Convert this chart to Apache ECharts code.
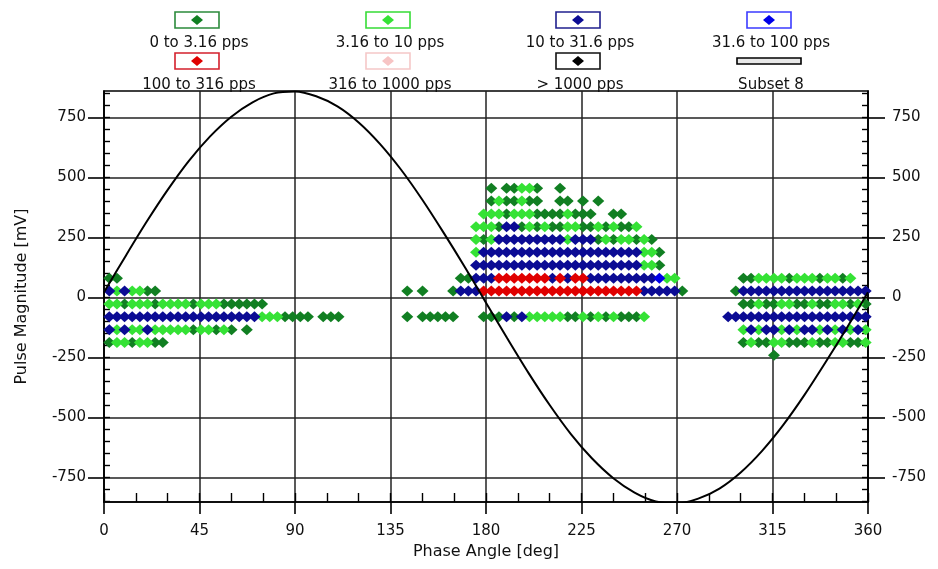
<!DOCTYPE html>
<html><head><meta charset="utf-8">
<script src="https://cdn.jsdelivr.net/npm/echarts@6/dist/echarts.min.js"></script>
<style>html,body{margin:0;padding:0;background:#fff}#c{width:938px;height:569px}</style>
</head><body><div id="c"></div>
<script>
// ---- data ----
const seriesNames = ['0 to 3.16 pps','3.16 to 10 pps','10 to 31.6 pps','31.6 to 100 pps','100 to 316 pps','316 to 1000 pps','> 1000 pps'];
const seriesCodes = ['a','b','c','d','e','f','g'];
const seriesColors = ['#117f22','#35e235','#0b0b94','#0000e8','#e00000','#f7c4c4','#000000'];
const refName = 'Subset 8';
// phase bins (deg): centre of bin n = binOffset + n * binWidth
const phaseBinWidth = 3.6;
const phaseBinOffset = 2.5;
// magnitude rows (mV)
const magnitudeRows = [455, 402, 348, 295, 241, 188, 134, 80, 27, -27, -80, -134, -188, -241];
// per row: [first bin, run-length string of series codes ('.' = empty)]
const rowSegments = [
  [[50,'1a1.2a2b1a2.1a']],
  [[50,'1a1b2a1b2a2.2a1.1a1.1a']],
  [[49,'3b1a3b4a1b3a2.2a']],
  [[48,'3b1a2c1a1b1a1b2a2b2a1b1a1b2a1b']],
  [[48,'1b1a1b9c1b3c1a1b1a2b1a1b1a']],
  [[48,'1b21c2b1a']],
  [[48,'22c2b1a']],
  [[0,'2a'],[46,'2a3c7e1c1e1c2e9c1d2b'],[83,'2a4b1a3b1a2b1a1b']],
  [[0,'1c1b1c2b2a'],[39,'1a1.1a3.1a3c21e5c1a'],[82,'1a17c']],
  [[0,'2b1a3b1a4b1a3b6a'],[83,'2a1b2a2b2a1b2a2b1a1b1a']],
  [[0,'20c3b4a1.3a'],[39,'1a1.5a'],[49,'3a1c1a1c5b2a1b1a1b1a1b3a1b'],[81,'19c']],
  [[0,'1c1b1c2b1c5b1a2b1a1b1a1.1a'],[83,'1b1c1b2c1b1c1b2c1b1c1b1c1b1c1b']],
  [[0,'1a2b1a2b2a'],[83,'1a1b2a2b3a1b2a2b2a1b']],
  [[87,'1a']]
];
// reference sine (Subset 8)
const refAngles = [0,10,20,30,40,50,60,70,80,90,100,110,120,130,140,150,160,170,180,190,200,210,220,230,240,250,260,270,280,290,300,310,320,330,340,350,360];
const refValues = [22,170,314,448,569,671,753,813,850,858,838,796,729,640,532,407,270,127,-22,-170,-314,-448,-569,-671,-753,-813,-850,-858,-838,-796,-729,-640,-532,-407,-270,-127,22];
// axes
const yTicks = [-750,-500,-250,0,250,500,750];
const yMinorTicks = [-850,-800,-750,-700,-650,-600,-550,-500,-450,-400,-350,-300,-250,-200,-150,-100,-50,0,50,100,150,200,250,300,350,400,450,500,550,600,650,700,750,800,850];
const yMin = -852, yMax = 860;

// ---- build points ----
const pts = seriesCodes.map(() => []);
rowSegments.forEach((segs, r) => {
  segs.forEach(([start, rle]) => {
    let bin = start;
    const re = /(\d+)([a-z.])/g; let m;
    while ((m = re.exec(rle))) {
      const n = +m[1], code = m[2];
      for (let k = 0; k < n; k++) {
        if (code !== '.') {
          const si = seriesCodes.indexOf(code);
          pts[si].push([phaseBinOffset + bin * phaseBinWidth, magnitudeRows[r]]);
        }
        bin++;
      }
    }
  });
});

const FONT = 'DejaVu Sans';
const chart = echarts.init(document.getElementById('c'), null, {renderer:'canvas'});
const txt = {fontFamily: FONT, fontSize: 15, color: '#111'};

const series = seriesNames.map((nm, i) => ({
  name: nm, type: 'scatter', xAxisIndex: 0, yAxisIndex: 0,
  symbol: 'diamond', symbolSize: [12, 11],
  itemStyle: {color: seriesColors[i], opacity: 1},
  data: pts[i], animation: false, silent: true, z: 3
}));
series.push({
  name: refName, type: 'line', xAxisIndex: 0, yAxisIndex: 0,
  data: refAngles.map((a, i) => [a, refValues[i]]),
  smooth: 0.3, showSymbol: false, symbol: 'none',
  lineStyle: {color: '#000', width: 2}, animation: false, z: 4, clip: true
});

// legend drawn as graphics
const legCols = [197, 388, 578, 769];
const legRowsBox = [20, 61];
const legRowsTxt = [43, 85];
const legendItems = [
  {name: seriesNames[0], border: '#2b8a3b', fill: seriesColors[0]},
  {name: seriesNames[1], border: '#36dc36', fill: seriesColors[1]},
  {name: seriesNames[2], border: '#20208e', fill: seriesColors[2]},
  {name: seriesNames[3], border: '#3b3bff', fill: seriesColors[3]},
  {name: seriesNames[4], border: '#d4202c', fill: seriesColors[4]},
  {name: seriesNames[5], border: '#f5c8c8', fill: seriesColors[5]},
  {name: seriesNames[6], border: '#111', fill: seriesColors[6]},
  {name: refName, line: true}
];
const graphic = [];
legendItems.forEach((it, i) => {
  const cx = legCols[i % 4], by = legRowsBox[Math.floor(i / 4)], ty = legRowsTxt[Math.floor(i / 4)];
  if (it.line) {
    graphic.push({type: 'rect', shape: {x: cx - 32, y: by - 3, width: 64, height: 6}, style: {fill: '#e8e8e8', stroke: '#000', lineWidth: 1.6}, z: 100});
  } else {
    graphic.push({type: 'rect', shape: {x: cx - 22, y: by - 8, width: 44, height: 16}, style: {fill: '#fff', stroke: it.border, lineWidth: 1.6}, z: 100});
    graphic.push({type: 'polygon', shape: {points: [[cx, by - 5], [cx + 6, by], [cx, by + 5], [cx - 6, by]]}, style: {fill: it.fill}, z: 101});
  }
  graphic.push({type: 'text', x: cx + 2, y: ty, style: {text: it.name, fontFamily: FONT, fontSize: 15, fill: '#111', align: 'center', verticalAlign: 'middle'}, z: 100});
});

const option = {
  backgroundColor: '#fff',
  animation: false,
  grid: {left: 104, right: 70, top: 91, bottom: 67, show: true, borderColor: '#000', borderWidth: 1.6, backgroundColor: 'transparent'},
  xAxis: [
    {type: 'value', min: 0, max: 360, interval: 45, position: 'bottom',
     axisLine: {show: true, onZero: false, lineStyle: {color: '#000', width: 1.6}},
     axisTick: {show: true, length: 12, lineStyle: {color: '#000', width: 1.6}},
     axisLabel: Object.assign({margin: 22}, txt),
     splitLine: {show: true, lineStyle: {color: '#222', width: 1.5}},
     name: 'Phase Angle [deg]', nameLocation: 'middle', nameGap: 42,
     nameTextStyle: {fontFamily: FONT, fontSize: 16, color: '#111'}},
    {type: 'value', min: 0, max: 360, interval: 15, position: 'bottom',
     axisLine: {show: false, onZero: false}, axisTick: {show: true, inside: true, length: 9, lineStyle: {color: '#000', width: 1.4}},
     axisLabel: {show: false}, splitLine: {show: false}}
  ],
  yAxis: [
    {type: 'value', min: yMin, max: yMax, position: 'left',
     axisLine: {show: true, onZero: false, lineStyle: {color: '#000', width: 1.6}},
     axisTick: {show: true, length: 16, customValues: yTicks, lineStyle: {color: '#000', width: 1.6}},
     axisLabel: Object.assign({margin: 18, customValues: yTicks}, txt),
     splitLine: {show: true, lineStyle: {color: '#222', width: 1.5}},
     name: 'Pulse Magnitude [mV]', nameLocation: 'middle', nameGap: 74, nameRotate: 90,
     nameTextStyle: {fontFamily: FONT, fontSize: 16, color: '#111'}},
    {type: 'value', min: yMin, max: yMax, position: 'left',
     axisLine: {show: false, onZero: false}, axisTick: {show: true, inside: true, length: 6, customValues: yMinorTicks, lineStyle: {color: '#000', width: 1.4}},
     axisLabel: {show: false}, splitLine: {show: false}},
    {type: 'value', min: yMin, max: yMax, position: 'right',
     axisLine: {show: true, onZero: false, lineStyle: {color: '#000', width: 1.6}},
     axisTick: {show: true, length: 17, customValues: yTicks, lineStyle: {color: '#000', width: 1.6}},
     axisLabel: Object.assign({margin: 24, customValues: yTicks}, txt),
     splitLine: {show: false}},
    {type: 'value', min: yMin, max: yMax, position: 'right',
     axisLine: {show: false, onZero: false}, axisTick: {show: true, inside: true, length: 6, customValues: yMinorTicks, lineStyle: {color: '#000', width: 1.4}},
     axisLabel: {show: false}, splitLine: {show: false}}
  ],
  graphic: graphic,
  series: series
};
chart.setOption(option);
</script></body></html>
